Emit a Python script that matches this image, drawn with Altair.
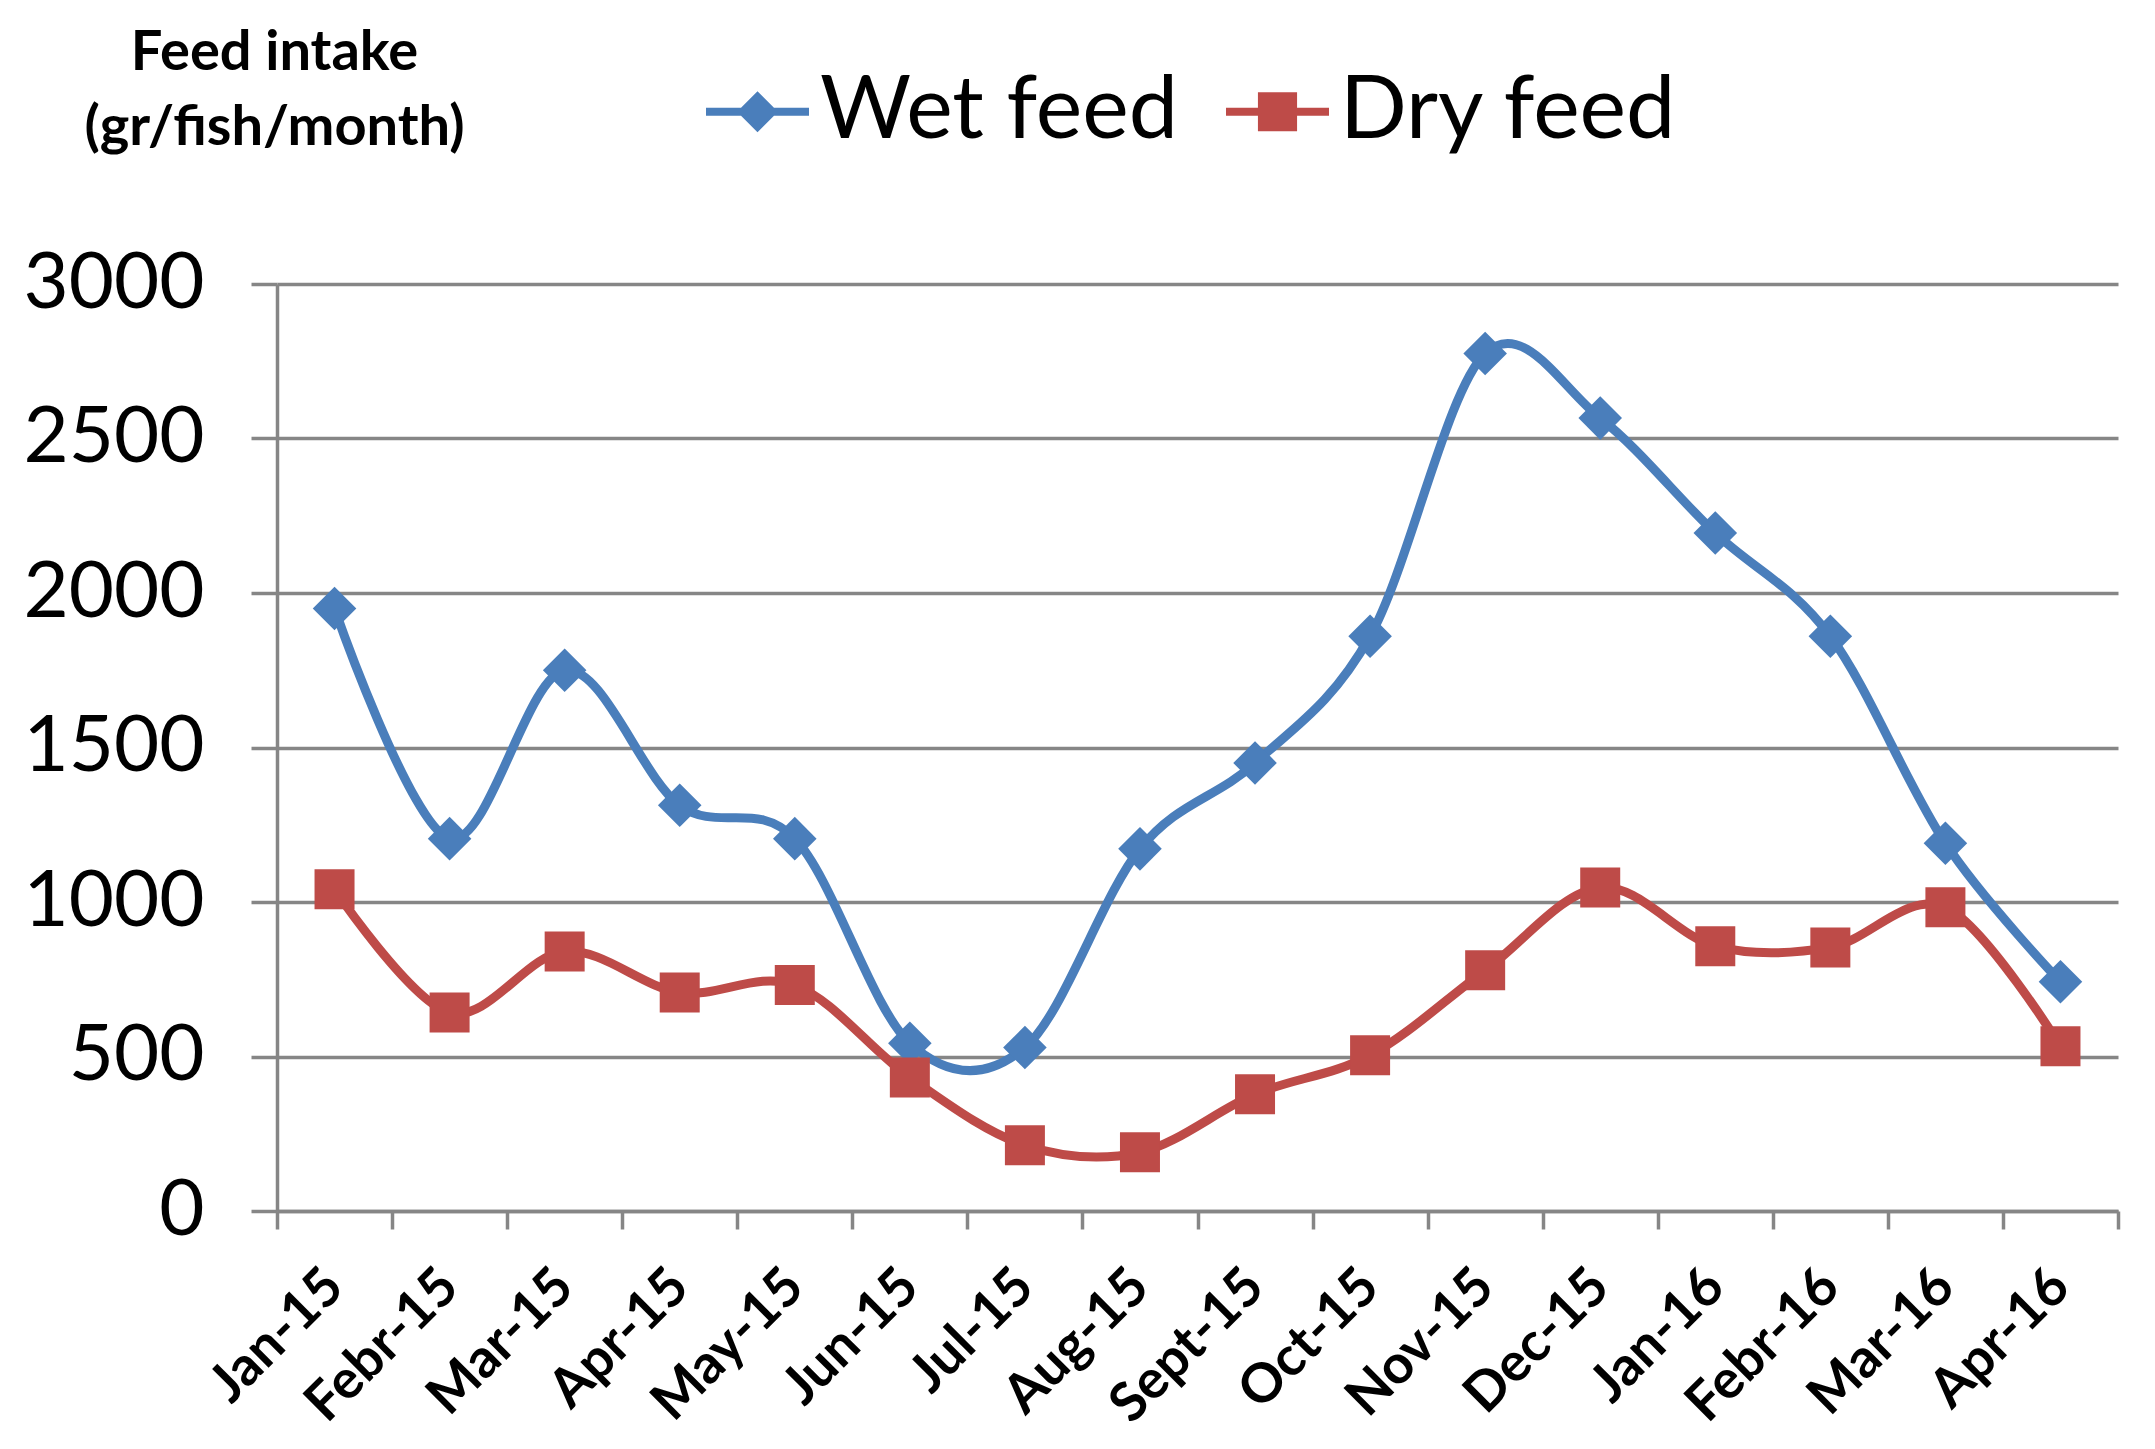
import altair as alt
import pandas as pd

months = ["Jan-15", "Febr-15", "Mar-15", "Apr-15", "May-15", "Jun-15", "Jul-15", "Aug-15",
          "Sept-15", "Oct-15", "Nov-15", "Dec-15", "Jan-16", "Febr-16", "Mar-16", "Apr-16"]
wet_feed = [1950, 1205, 1750, 1313, 1205, 543, 529, 1172, 1450, 1860, 2775, 2566, 2194, 1860, 1190, 742]
dry_feed = [1041, 642, 840, 707, 731, 432, 213, 190, 378, 504, 779, 1047, 857, 853, 983, 533]
series_names = ["Wet feed", "Dry feed"]
y_ticks = [0, 500, 1000, 1500, 2000, 2500, 3000]
y_title = ["Feed intake", "(gr/fish/month)"]

colors = ["#4A7EBB", "#BE4B48"]
shapes = ["diamond", "square"]
marker_sizes = [1900, 1600]
GRAY = "#868686"

rows = []
for s, vals in zip(series_names, [wet_feed, dry_feed]):
    for i, (m, v) in enumerate(zip(months, vals)):
        rows.append({"month": m, "idx": i, "series": s, "value": v})
df = pd.DataFrame(rows)

# legend symbols: a short line with the marker on it
wet_path = ("M-1,-0.08L-0.32,-0.08L0,-0.40L0.32,-0.08L1,-0.08L1,0.08L0.32,0.08"
            "L0,0.40L-0.32,0.08L-1,0.08Z")
dry_path = ("M-1,-0.08L-0.38,-0.08L-0.38,-0.38L0.38,-0.38L0.38,-0.08L1,-0.08L1,0.08"
            "L0.38,0.08L0.38,0.38L-0.38,0.38L-0.38,0.08L-1,0.08Z")
legend_shapes = [wet_path, dry_path]

x_enc = alt.X(
    "month:N", sort=months,
    scale=alt.Scale(type="band", paddingInner=0, paddingOuter=0),
    axis=alt.Axis(
        title=None, labelAngle=-45, labelAlign="right", labelBaseline="middle",
        labelFontSize=54, labelFontWeight="bold", labelColor="black", labelPadding=49,
        labelLimit=500,
        tickBand="extent", tickSize=18, tickWidth=3.5, tickColor=GRAY,
        domainColor=GRAY, domainWidth=3.5, grid=False,
    ),
)
y_enc = alt.Y(
    "value:Q",
    scale=alt.Scale(domain=[0, 3000], nice=False),
    axis=alt.Axis(
        values=y_ticks, format="d", labelFontSize=78, labelColor="black", labelPadding=47,
        labelLimit=500,
        tickSize=26, tickWidth=3.5, tickColor=GRAY, domainColor=GRAY, domainWidth=3.5,
        grid=True, gridColor=GRAY, gridWidth=3.5,
        title=y_title, titleAngle=0, titleAlign="center", titleBaseline="alphabetic",
        titleX=-3, titleY=-215, titleFontSize=56, titleFontWeight="bold",
        titleLineHeight=75, titleColor="black", titleLimit=1000,
    ),
)

legend = alt.Legend(
    orient="none", legendX=429, legendY=-224, direction="horizontal", title=None,
    labelFontSize=88, labelColor="black", labelLimit=2000, symbolSize=10609,
    labelOffset=11, columnPadding=48, padding=0, symbolOpacity=1, symbolStrokeWidth=0,
)

color_scale = alt.Scale(domain=series_names, range=colors)

lines = alt.Chart(df).mark_line(interpolate="cardinal", strokeWidth=9).encode(
    x=x_enc, y=y_enc,
    color=alt.Color("series:N", scale=color_scale, legend=None),
    order=alt.Order("idx:Q"),
)
points = alt.Chart(df).mark_point(filled=True, opacity=1).encode(
    x=x_enc, y=y_enc,
    color=alt.Color("series:N", scale=color_scale, legend=None),
    shape=alt.Shape("series:N", scale=alt.Scale(domain=series_names, range=shapes), legend=None),
    size=alt.Size("series:N", scale=alt.Scale(domain=series_names, range=marker_sizes), legend=None),
)
legend_layer = alt.Chart(df).mark_point(filled=True, opacity=0, size=10).encode(
    x=x_enc, y=y_enc,
    color=alt.Color("series:N", scale=color_scale, legend=legend),
    shape=alt.Shape("series:N", scale=alt.Scale(domain=series_names, range=legend_shapes), legend=legend),
)

chart = alt.layer(lines, points, legend_layer).resolve_scale(
    color="independent", shape="independent"
).properties(
    width=1841, height=927, autosize="none",
    padding={"left": 269, "top": 276, "right": 20, "bottom": 228},
    background="white",
).configure(font="Lato").configure_view(stroke=None)

chart.save("out.html", embed_options={"renderer": "svg", "actions": False})
